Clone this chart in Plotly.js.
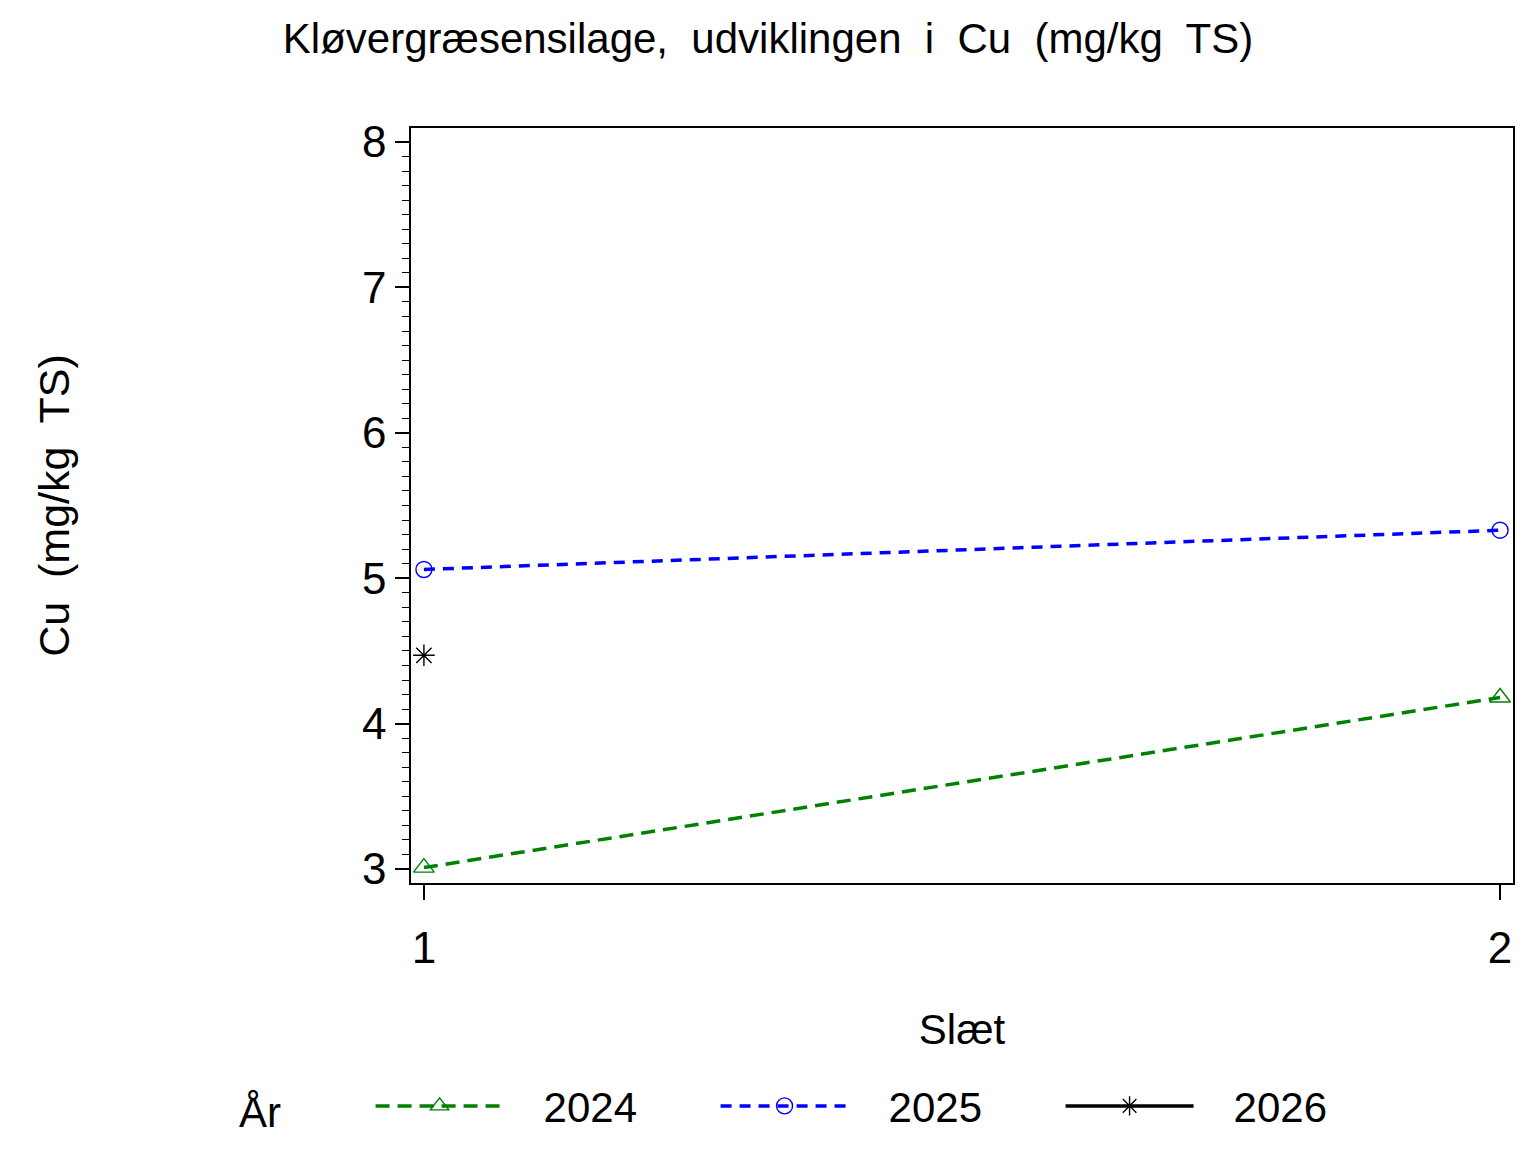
<!DOCTYPE html>
<html>
<head>
<meta charset="utf-8">
<script src="https://cdn.plot.ly/plotly-3.0.1.min.js"></script>
<style>
  body { margin: 0; background: #fff; }
  #myDiv { width: 1536px; height: 1152px; }
</style>
</head>
<body>
<div id="myDiv"></div>
<script>
var slaet = [1, 2];
var cu2024 = [3.01, 4.18];
var cu2025 = [5.06, 5.33];
var slaet2026 = [1];
var cu2026 = [4.47];
var aarNames = ['2024', '2025', '2026'];

var fnt = 'Liberation Sans, Arial, sans-serif';
var pad = '\u00a0\u00a0\u00a0';

var trace2024 = {
    x: slaet, y: cu2024, name: pad + aarNames[0], type: 'scatter', mode: 'lines+markers',
    line: {color: '#008000', width: 3.5, dash: '14px,8px'},
    marker: {symbol: 'triangle-up-open', size: 18, color: '#008000', line: {width: 1.4}}
};
var trace2025 = {
    x: slaet, y: cu2025, name: pad + aarNames[1], type: 'scatter', mode: 'lines+markers',
    line: {color: '#0000ff', width: 3.5, dash: '11px,8px'},
    marker: {symbol: 'circle-open', size: 16, color: '#0000ff', line: {width: 1.4}}
};
var trace2026 = {
    x: slaet2026, y: cu2026, name: pad + aarNames[2], type: 'scatter', mode: 'lines+markers',
    line: {color: '#000000', width: 3.5},
    marker: {symbol: 'asterisk-open', size: 18, color: '#000000', line: {width: 1.4}}
};

var layout = {
    width: 1536,
    height: 1152,
    margin: {l: 411, r: 23, t: 128, b: 266, pad: 0},
    paper_bgcolor: '#fff',
    plot_bgcolor: '#fff',
    font: {family: fnt, size: 42, color: '#000'},
    title: {
        text: 'Kløvergræsensilage,  udviklingen  i  Cu  (mg/kg  TS)',
        font: {family: fnt, size: 42, color: '#000'},
        x: 0.5, xref: 'container', xanchor: 'center',
        y: 0.967, yref: 'container', yanchor: 'middle'
    },
    xaxis: {
        range: [0.988, 2.012],
        tickvals: [1, 2],
        ticktext: ['1', '2'],
        ticks: 'outside', ticklen: 15, tickwidth: 1.5, tickcolor: '#000',
        showline: true, linecolor: '#000', linewidth: 1.5, mirror: true,
        showgrid: false, zeroline: false,
        tickfont: {family: fnt, size: 44},
        ticklabelstandoff: 10,
        title: {text: 'Slæt', font: {family: fnt, size: 42}, standoff: 44}
    },
    yaxis: {
        range: [2.904, 8.096],
        tickvals: [3, 4, 5, 6, 7, 8],
        ticks: 'outside', ticklen: 14, tickwidth: 1.5, tickcolor: '#000',
        minor: {dtick: 0.1, ticks: 'outside', ticklen: 7, tickwidth: 1.2, tickcolor: '#000', showgrid: false},
        showline: true, linecolor: '#000', linewidth: 1.5, mirror: true,
        showgrid: false, zeroline: false,
        tickfont: {family: fnt, size: 44},
        ticklabelstandoff: 0,
        title: {text: 'Cu  (mg/kg  TS)', font: {family: fnt, size: 43}, standoff: 279}
    },
    showlegend: true,
    legend: {
        orientation: 'h',
        x: -0.158, xanchor: 'left',
        y: -0.2955, yanchor: 'middle',
        title: {text: 'År\u00a0\u00a0\u00a0\u00a0\u00a0\u00a0\u00a0', font: {family: fnt, size: 42}},
        font: {family: fnt, size: 42},
        itemwidth: 128,
        entrywidth: 202, entrywidthmode: 'pixels',
        bgcolor: 'rgba(0,0,0,0)'
    }
};

Plotly.newPlot('myDiv', [trace2024, trace2025, trace2026], layout, {displayModeBar: false});
</script>
</body>
</html>
